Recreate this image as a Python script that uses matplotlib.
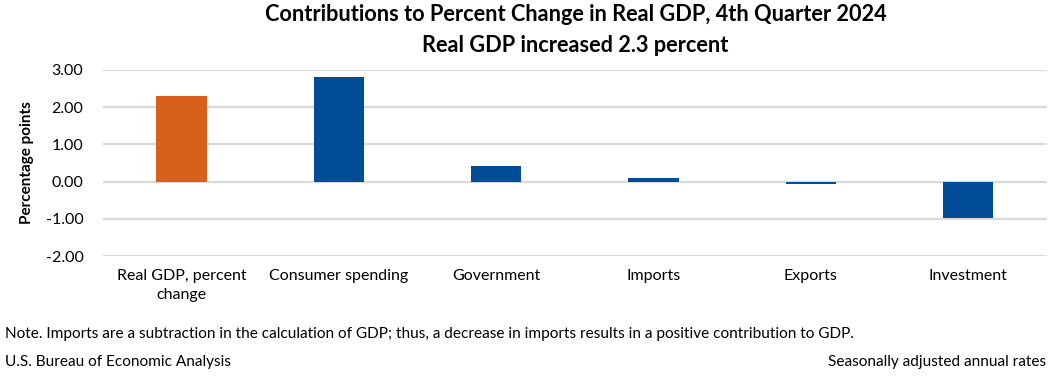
"""
Contributions to percent change in real GDP, 4th quarter 2024 (BEA style bar chart).
"""
import matplotlib
matplotlib.use("Agg")
import matplotlib.pyplot as plt

plt.rcParams["font.family"] = ["Lato", "DejaVu Sans"]

categories = ["Real GDP, percent\nchange", "Consumer spending", "Government",
              "Imports", "Exports", "Investment"]
values = [2.30, 2.81, 0.43, 0.11, -0.07, -0.99]
bar_colors = ["#D9601A", "#004C97", "#004C97", "#004C97", "#004C97", "#004C97"]
y_ticks = [-2.0, -1.0, 0.0, 1.0, 2.0, 3.0]

title = "Contributions to Percent Change in Real GDP, 4th Quarter 2024\nReal GDP increased 2.3 percent"
note = ("Note. Imports are a subtraction in the calculation of GDP; thus, a decrease "
        "in imports results in a positive contribution to GDP.")
source = "U.S. Bureau of Economic Analysis"
rates = "Seasonally adjusted annual rates"

fig = plt.figure(figsize=(10.5, 3.76), dpi=100)
ax = fig.add_axes([0.098, 0.319, 0.899, 0.495])

x = range(len(categories))
ax.bar(x, values, width=0.32, color=bar_colors, zorder=3)

ax.set_ylim(-2, 3)
ax.set_xlim(-0.5, len(categories) - 0.5)
ax.set_yticks(y_ticks)
ax.set_yticklabels([f"{v:.2f}" for v in y_ticks], fontsize=11.5)
ax.set_xticks(list(x))
ax.set_xticklabels(categories, fontsize=11.5, linespacing=1.5)
ax.tick_params(axis="both", length=0)
ax.tick_params(axis="x", pad=9)
ax.tick_params(axis="y", pad=14)
ax.grid(axis="y", color="#D9D9D9", lw=1.6, zorder=0)
for s in ax.spines.values():
    s.set_visible(False)

ax.set_ylabel("Percentage points", fontsize=11, fontweight="bold", labelpad=8)

fig.text(0.548, 0.99, title, ha="center", va="top", fontsize=15.7,
         fontweight="bold", linespacing=1.6)
fig.text(0.005, 0.113, note, ha="left", va="center", fontsize=11.1)
fig.text(0.005, 0.037, source, ha="left", va="center", fontsize=11.1)
fig.text(0.996, 0.037, rates, ha="right", va="center", fontsize=11.1)

fig.savefig("out.png", dpi=100)
